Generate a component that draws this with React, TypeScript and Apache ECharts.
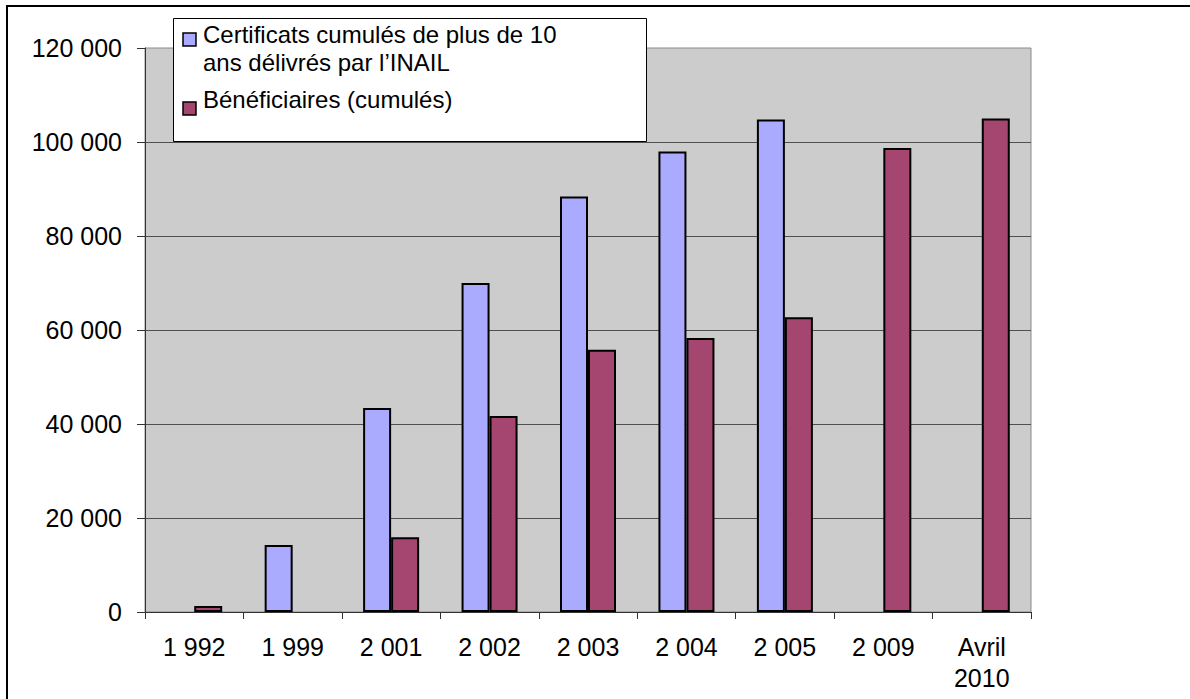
import React, { useEffect, useRef } from "react";
import * as echarts from "echarts";

const categories = ["1 992", "1 999", "2 001", "2 002", "2 003", "2 004", "2 005", "2 009", "Avril\n2010"];
const certificats = [null, 14250, 43400, 70000, 88400, 98000, 104800, null, null];
const beneficiaires = [1300, null, 15900, 41700, 55800, 58300, 62700, 98700, 105000];
const legendNames = ["Certificats cumulés de plus de 10\nans délivrés par l\u2019INAIL", "Bénéficiaires (cumulés)"];
const colors = ["#AAAAFF", "#A4466F"];

const FONT = "'Liberation Sans', Arial, sans-serif";

function fmt(v: number): string {
  const s = String(Math.round(v));
  return s.replace(/\B(?=(\d{3})+(?!\d))/g, " ");
}

export default function App() {
  const ref = useRef<HTMLDivElement>(null);
  useEffect(() => {
    if (!ref.current) return;
    const chart = echarts.init(ref.current, undefined, { renderer: "svg" });
    chart.setOption({
      animation: false,
      backgroundColor: "#FFFFFF",
      grid: {
        left: 145,
        top: 48,
        right: 159,
        bottom: 87,
        show: true,
        backgroundColor: "#CCCCCC",
        borderColor: "#8A8A8A",
        borderWidth: 1,
      },
      xAxis: {
        type: "category",
        data: categories,
        axisLine: { show: true, lineStyle: { color: "#333333", width: 1 } },
        axisTick: { show: true, length: 7, alignWithLabel: false, lineStyle: { color: "#333333" } },
        axisLabel: {
          color: "#000000",
          fontFamily: FONT,
          fontSize: 25,
          margin: 19,
          lineHeight: 31,
          interval: 0,
        },
        splitLine: { show: false },
      },
      yAxis: {
        type: "value",
        min: 0,
        max: 120000,
        interval: 20000,
        axisLine: { show: true, lineStyle: { color: "#333333", width: 1 } },
        axisTick: { show: true, length: 8, lineStyle: { color: "#333333" } },
        axisLabel: {
          color: "#000000",
          fontFamily: FONT,
          fontSize: 25,
          margin: 23,
          formatter: (v: number) => fmt(v),
        },
        splitLine: { show: true, showMaxLine: false, lineStyle: { color: "#505050", width: 1 } },
      },
      series: [
        {
          name: legendNames[0],
          type: "bar",
          data: certificats,
          barWidth: 28,
          barGap: "0%",
          itemStyle: { color: colors[0], borderColor: "#000000", borderWidth: 2 },
        },
        {
          name: legendNames[1],
          type: "bar",
          data: beneficiaires,
          barWidth: 28,
          barGap: "0%",
          itemStyle: { color: colors[1], borderColor: "#000000", borderWidth: 2 },
        },
      ],
      graphic: [
        {
          type: "rect",
          z: 100,
          shape: { x: 7, y: 6, width: 1220, height: 720 },
          style: { fill: "none", stroke: "#000000", lineWidth: 2 },
          silent: true,
        },
        {
          type: "rect",
          z: 100,
          shape: { x: 173.5, y: 18.5, width: 473, height: 123 },
          style: { fill: "#FFFFFF", stroke: "#000000", lineWidth: 1 },
          silent: true,
        },
        {
          type: "rect",
          z: 101,
          shape: { x: 183, y: 33, width: 13, height: 13 },
          style: { fill: colors[0], stroke: "#000000", lineWidth: 1.5 },
          silent: true,
        },
        {
          type: "rect",
          z: 101,
          shape: { x: 183, y: 102, width: 13, height: 13 },
          style: { fill: colors[1], stroke: "#000000", lineWidth: 1.5 },
          silent: true,
        },
        {
          type: "text",
          z: 101,
          x: 203,
          y: 20,
          style: {
            text: legendNames[0],
            fill: "#000000",
            font: "24px " + FONT,
            lineHeight: 28,
            verticalAlign: "top",
            align: "left",
          },
          silent: true,
        },
        {
          type: "text",
          z: 101,
          x: 203,
          y: 99,
          style: {
            text: legendNames[1],
            fill: "#000000",
            font: "24px " + FONT,
            verticalAlign: "middle",
            align: "left",
          },
          silent: true,
        },
      ],
    });
    return () => chart.dispose();
  }, []);
  return (
    <div
      ref={ref}
      style={{ position: "absolute", left: 0, top: 0, width: 1190, height: 699 }}
    />
  );
}
